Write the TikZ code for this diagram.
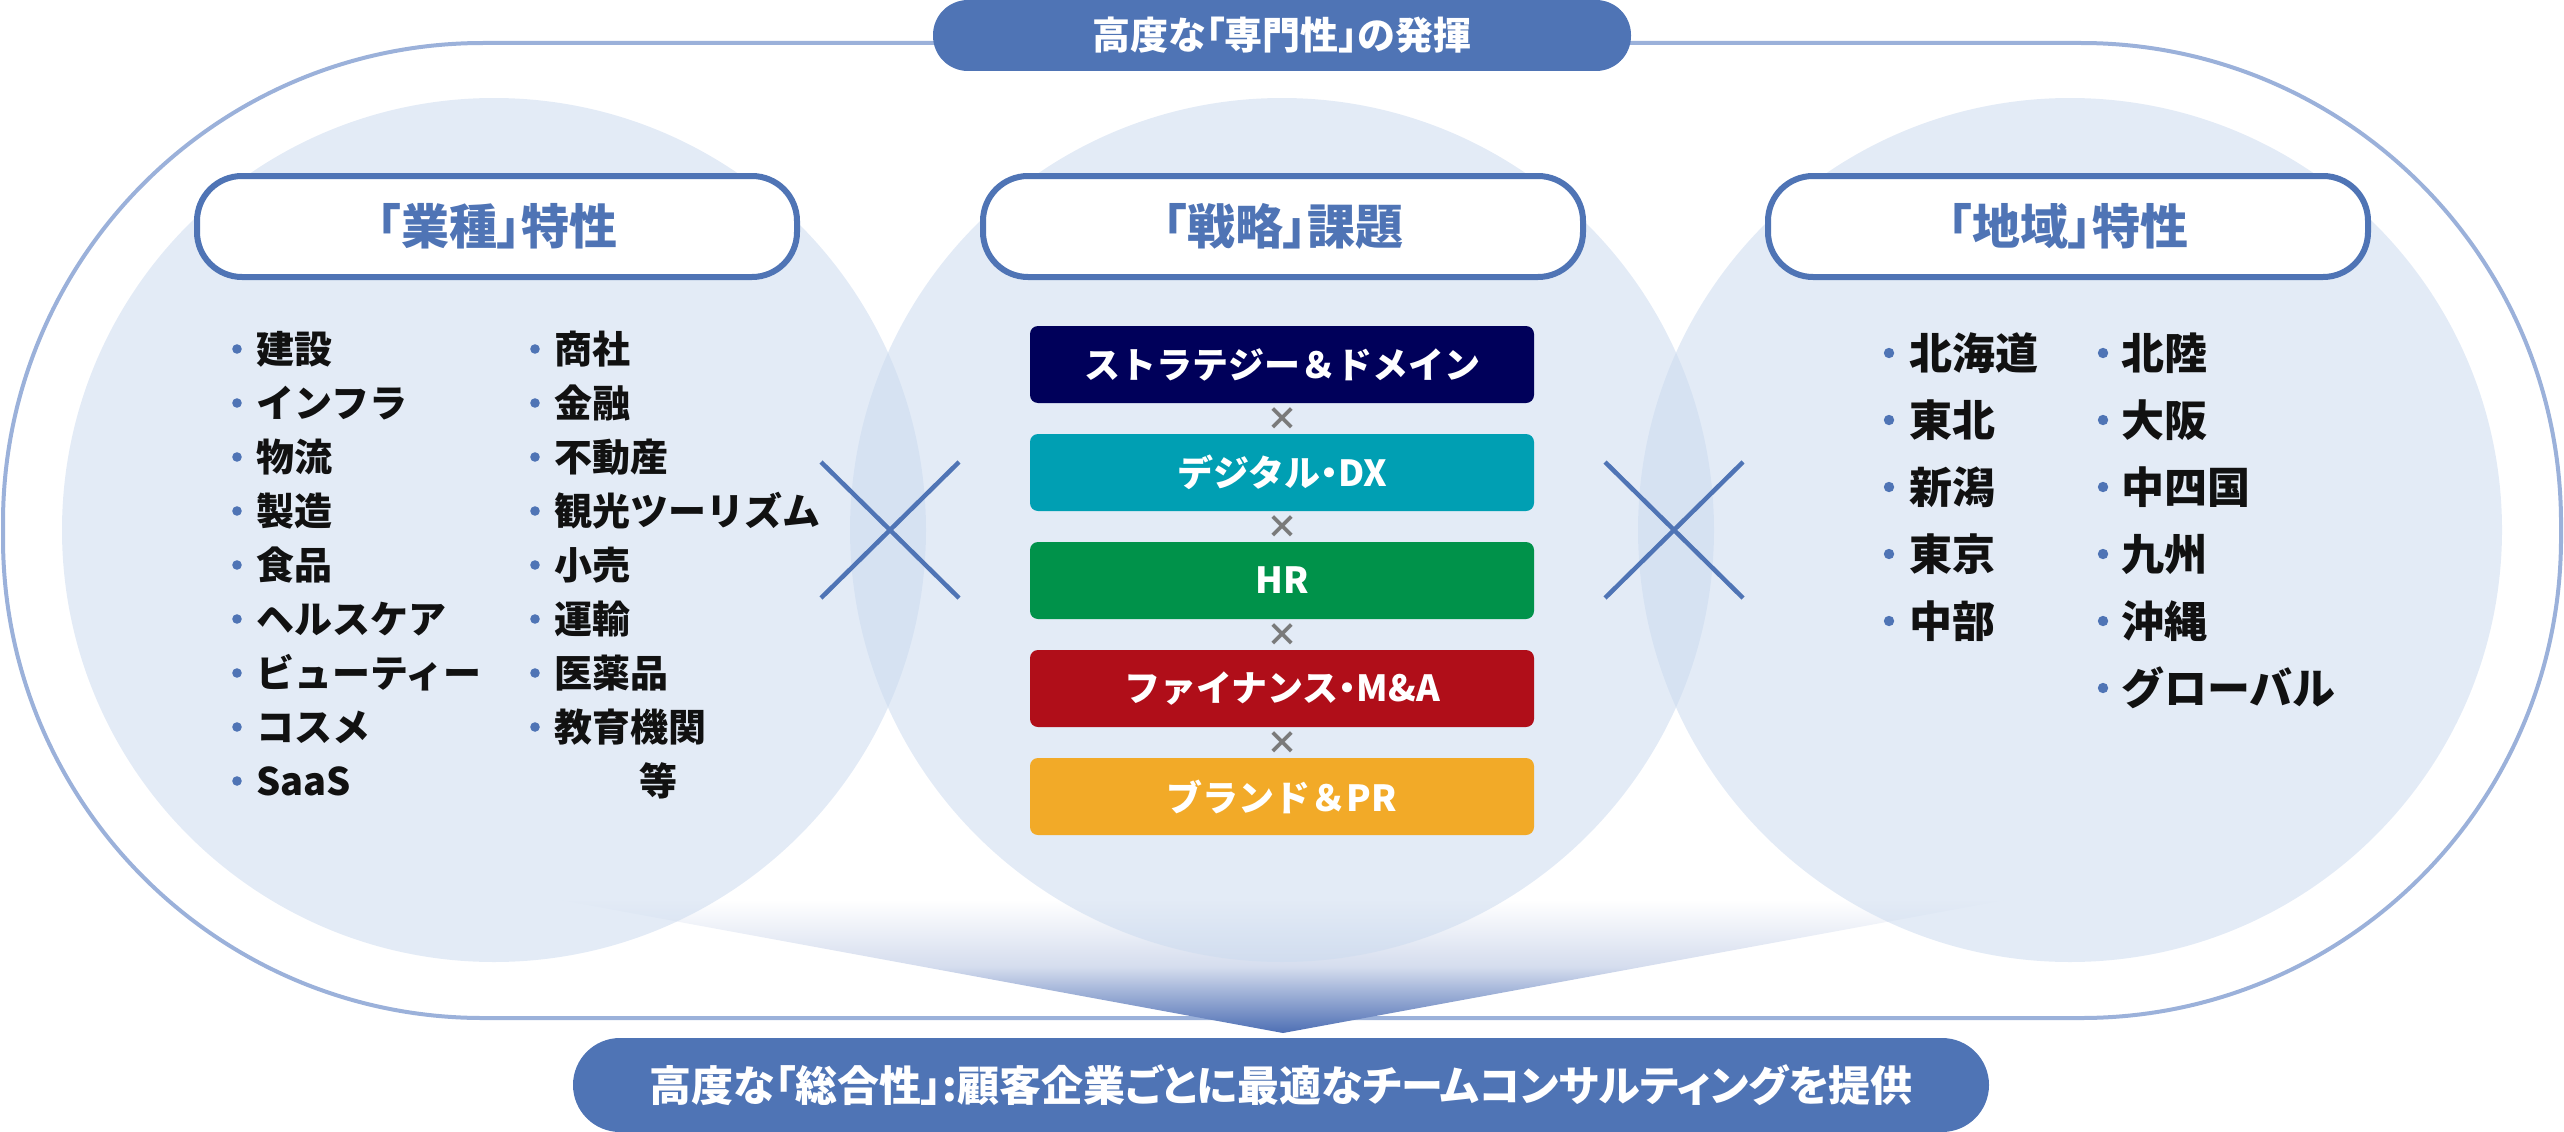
\documentclass[tikz,border=0pt]{standalone}
\usepackage{fontspec}
\setmainfont{Noto Sans CJK JP}
\newfontfamily\jpp{Noto Sans CJK JP}[RawFeature=+palt]
\newcommand\ndot{{\jpp\bfseries ・}}
\definecolor{mainblue}{HTML}{4F74B5}
\definecolor{lineblue}{HTML}{9BB1DA}
\definecolor{circfill}{RGB}{204,219,239}
\definecolor{navybar}{HTML}{00005A}
\definecolor{tealbar}{HTML}{009FB3}
\definecolor{greenbar}{HTML}{00924A}
\definecolor{redbar}{HTML}{B00E19}
\definecolor{orangebar}{HTML}{F2AA28}
\definecolor{crossgray}{HTML}{7A7A7A}
\definecolor{tipblue}{HTML}{4E6FB4}
\definecolor{midblue}{HTML}{D5DDEE}
\definecolor{itemtext}{HTML}{111111}
\begin{document}
\begin{tikzpicture}[x=1pt,y=-1pt,
 circ/.style={circle, minimum size=864pt, inner sep=0pt, fill=circfill, fill opacity=0.55, draw=none},
 hdr/.style={rectangle, rounded corners=45pt, minimum width=600pt, minimum height=101pt, draw=mainblue, line width=6pt, fill=white, text=mainblue, inner sep=0pt, font=\jpp\bfseries\fontsize{48pt}{52pt}\selectfont},
 pill/.style={rectangle, fill=mainblue, text=white, inner sep=0pt, font=\jpp\bfseries\fontsize{38pt}{42pt}\selectfont},
 bar/.style={rectangle, rounded corners=8pt, minimum width=504pt, minimum height=77pt, inner sep=0pt, text=white, font=\bfseries\fontsize{36pt}{40pt}\selectfont},
 timesmark/.style={inner sep=0pt, text=crossgray, font=\bfseries\fontsize{32pt}{34pt}\selectfont},
 itemL/.style={anchor=west, inner sep=0pt, text=itemtext, font=\bfseries\fontsize{38pt}{40pt}\selectfont, text height=33pt, text depth=5pt},
 itemR/.style={anchor=west, inner sep=0pt, text=itemtext, font=\bfseries\fontsize{43pt}{46pt}\selectfont, text height=38pt, text depth=5pt},
 bul/.style={fill=mainblue},
 crossline/.style={draw=mainblue, line width=4.5pt},
 outline/.style={draw=lineblue, line width=4pt, rounded corners=480pt},
]
\useasboundingbox (0,0) rectangle (2564,1132);

% outer outline
\draw[outline] (3,43) rectangle (2561,1018);

% funnel triangle
\shade[top color=white, bottom color=tipblue, middle color=midblue] (560,900) -- (2006,900) -- (1283,1033) -- cycle;

% circles
\node[circ] (cL) at (494,530) {};
\node[circ] (cC) at (1282,530) {};
\node[circ] (cR) at (2070,530) {};

% cross marks
\draw[crossline] (821,462) -- (959,598);
\draw[crossline] (821,598) -- (959,462);
\draw[crossline] (1605,462) -- (1743,598);
\draw[crossline] (1605,598) -- (1743,462);

% top and bottom pills
\node[pill, minimum width=698pt, minimum height=71pt, rounded corners=35pt] (top) at (1282,35.5) {高度な「専門性」の発揮};
\node[pill, minimum width=1416pt, minimum height=94pt, rounded corners=47pt, font=\jpp\bfseries\fontsize{42pt}{46pt}\selectfont] (bottom) at (1281,1085) {高度な「総合性」:顧客企業ごとに最適なチームコンサルティングを提供};

% headers
\node[hdr] (hL) at (497,226.5) {「業種」特性};
\node[hdr] (hC) at (1283,226.5) {「戦略」課題};
\node[hdr] (hR) at (2068,226.5) {「地域」特性};

% bars
\node[bar, fill=navybar] (b1) at (1282,364.5) {ストラテジー＆ドメイン};
\node[bar, fill=tealbar] (b2) at (1282,472.5) {デジタル\ndot DX};
\node[bar, fill=greenbar] (b3) at (1282,580.5) {HR};
\node[bar, fill=redbar] (b4) at (1282,688.5) {ファイナンス\ndot M\&A};
\node[bar, fill=orangebar] (b5) at (1282,796.5) {ブランド＆PR};
\node[timesmark] (x1) at (1282,419) {×};
\node[timesmark] (x2) at (1282,527) {×};
\node[timesmark] (x3) at (1282,635) {×};
\node[timesmark] (x4) at (1282,743) {×};

% left lists
\foreach \t [count=\i] in {建設,インフラ,物流,製造,食品,ヘルスケア,ビューティー,コスメ,SaaS} {
  \fill[bul] (237,{349+54*(\i-1)}) circle (4.8);
  \node[itemL] (la\i) at (256,{349+54*(\i-1)}) {\t};
}
\foreach \t [count=\i] in {商社,金融,不動産,観光ツーリズム,小売,運輸,医薬品,教育機関} {
  \fill[bul] (535,{349+54*(\i-1)}) circle (4.8);
  \node[itemL] (lb\i) at (554,{349+54*(\i-1)}) {\t};
}
\node[itemL, anchor=center] (etc) at (658,781) {等};

% right lists
\foreach \t [count=\i] in {北海道,東北,新潟,東京,中部} {
  \fill[bul] (1889,{353+67*(\i-1)}) circle (5.2);
  \node[itemR] (ra\i) at (1909,{353+67*(\i-1)}) {\t};
}
\foreach \t [count=\i] in {北陸,大阪,中四国,九州,沖縄,グローバル} {
  \fill[bul] (2103,{353+67*(\i-1)}) circle (5.2);
  \node[itemR] (rb\i) at (2121,{353+67*(\i-1)}) {\t};
}
\end{tikzpicture}
\end{document}
